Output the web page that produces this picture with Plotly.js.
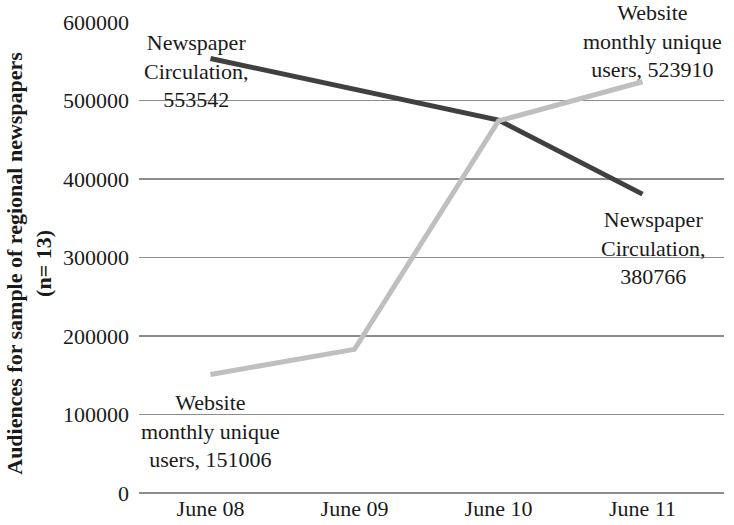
<!DOCTYPE html>
<html>
<head>
<meta charset="utf-8">
<script src="https://cdn.plot.ly/plotly-3.0.1.min.js"></script>
<style>html,body{margin:0;padding:0;background:#fff;}#chart{width:734px;height:525px;}</style>
</head>
<body>
<div id="chart"></div>
<script>
const categories = ["June 08", "June 09", "June 10", "June 11"];
const newspaperCirculation = [553542, 514000, 475000, 380766];
const websiteUsers = [151006, 183000, 474000, 523910];
const yTicks = [0, 100000, 200000, 300000, 400000, 500000, 600000];

const serif = "Liberation Serif, Times New Roman, serif";

const traces = [
  {x: categories, y: newspaperCirculation, type: "scatter", mode: "lines",
   name: "Newspaper Circulation", line: {color: "#404040", width: 5}},
  {x: categories, y: websiteUsers, type: "scatter", mode: "lines",
   name: "Website monthly unique users", line: {color: "#bfbfbf", width: 5}}
];

const annFont = {family: serif, size: 22, color: "#1a1a1a"};
const layout = {
  width: 734, height: 525,
  margin: {l: 139, r: 10, t: 22, b: 31.5, autoexpand: false},
  paper_bgcolor: "#fff", plot_bgcolor: "#fff",
  showlegend: false,
  font: {family: serif, size: 22, color: "#1a1a1a"},
  xaxis: {type: "category", showgrid: false, zeroline: false, showline: false,
          automargin: false, ticks: "",
          tickfont: {family: serif, size: 22, color: "#1a1a1a"}},
  yaxis: {range: [0, 600000], tickvals: yTicks, ticktext: yTicks.map(String),
          showgrid: true, gridcolor: "#8c8c8c", gridwidth: 1.5,
          zeroline: true, zerolinecolor: "#8c8c8c", zerolinewidth: 1.5,
          automargin: false, ticks: "", ticklabelstandoff: 9,
          tickfont: {family: serif, size: 22, color: "#1a1a1a"}},
  annotations: [
    {xref: "paper", yref: "paper", x: -0.187, y: 0.488, xanchor: "center", yanchor: "middle",
     textangle: -90, showarrow: false, align: "center",
     text: "<b>Audiences for sample of regional newspapers<br>(n= 13)</b>",
     font: {family: serif, size: 22, color: "#1a1a1a"}},
    {x: "June 08", y: 537600, xref: "x", yref: "y", xshift: -15, showarrow: false,
     text: "Newspaper<br>Circulation,<br>553542", font: annFont, align: "center"},
    {x: "June 11", y: 575900, xref: "x", yref: "y", xshift: 10, showarrow: false,
     text: "Website<br>monthly unique<br>users, 523910", font: annFont, align: "center"},
    {x: "June 08", y: 78400, xref: "x", yref: "y", xshift: 0, showarrow: false,
     text: "Website<br>monthly unique<br>users, 151006", font: annFont, align: "center"},
    {x: "June 11", y: 311900, xref: "x", yref: "y", xshift: 10, showarrow: false,
     text: "Newspaper<br>Circulation,<br>380766", font: annFont, align: "center"}
  ]
};

Plotly.newPlot("chart", traces, layout, {displayModeBar: false, staticPlot: true});
</script>
</body>
</html>
